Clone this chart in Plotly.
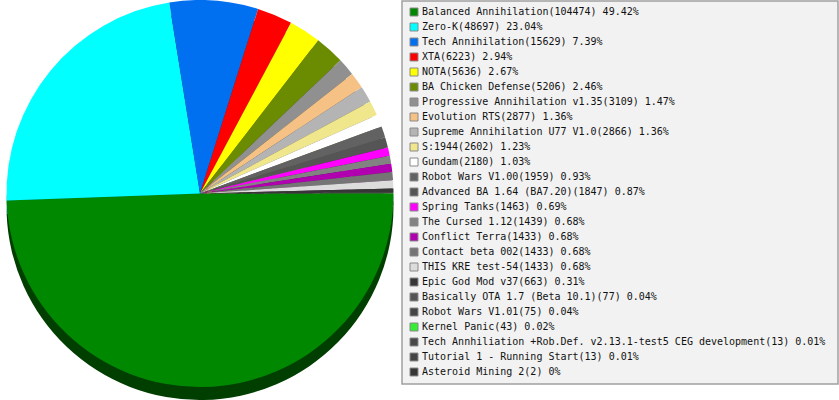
import plotly.graph_objects as go

names = [
    "Balanced Annihilation", "Zero-K", "Tech Annihilation", "XTA", "NOTA",
    "BA Chicken Defense", "Progressive Annihilation v1.35", "Evolution RTS",
    "Supreme Annihilation U77 V1.0", "S:1944", "Gundam", "Robot Wars V1.00",
    "Advanced BA 1.64 (BA7.20)", "Spring Tanks", "The Cursed 1.12",
    "Conflict Terra", "Contact beta 002", "THIS KRE test-54", "Epic God Mod v37",
    "Basically OTA 1.7 (Beta 10.1)", "Robot Wars V1.01", "Kernel Panic",
    "Tech Annhiliation +Rob.Def. v2.13.1-test5 CEG development",
    "Tutorial 1 - Running Start", "Asteroid Mining 2",
]
counts = [104474, 48697, 15629, 6223, 5636, 5206, 3109, 2877, 2866, 2602, 2180,
          1959, 1847, 1463, 1439, 1433, 1433, 1433, 663, 77, 75, 43, 13, 13, 2]
percents = ["49.42%", "23.04%", "7.39%", "2.94%", "2.67%", "2.46%", "1.47%",
            "1.36%", "1.36%", "1.23%", "1.03%", "0.93%", "0.87%", "0.69%",
            "0.68%", "0.68%", "0.68%", "0.68%", "0.31%", "0.04%", "0.04%",
            "0.02%", "0.01%", "0.01%", "0%"]
colors = ["#008800", "#00ffff", "#0070f0", "#ff0000", "#ffff00", "#6b8c00",
          "#909090", "#f5c184", "#b4b4b4", "#f0e68c", "#ffffff", "#626262",
          "#555555", "#ff00ff", "#828282", "#b000b0", "#757575", "#dcdcdc",
          "#363636", "#555555", "#444444", "#33ee33", "#484848", "#444444",
          "#363636"]

W, H = 839, 400


def darken(hexc, f=0.47):
    h = hexc.lstrip("#")
    r, g, b = (int(h[i:i + 2], 16) for i in (0, 2, 4))
    return "rgb(%d,%d,%d)" % (r * f, g * f, b * f)


labels = ["%s(%d) %s" % (n, c, p) for n, c, p in zip(names, counts, percents)]

fig = go.Figure()

# 3D depth: darker copy of the pie, shifted down
depth = 13
top_px, bot_px = 0, 387
x0, x1 = 0 / W, 400 / W
fig.add_trace(go.Pie(
    values=counts, labels=names, sort=False, direction="clockwise", rotation=90,
    marker=dict(colors=[darken(c) for c in colors], line=dict(width=0)),
    textinfo="none", hoverinfo="skip", showlegend=False,
    domain=dict(x=[x0, x1], y=[1 - (bot_px + depth) / H, 1 - (top_px + depth) / H]),
))
fig.add_trace(go.Pie(
    values=counts, labels=names, sort=False, direction="clockwise", rotation=90,
    marker=dict(colors=colors, line=dict(width=0)),
    textinfo="none", showlegend=False,
    domain=dict(x=[x0, x1], y=[1 - bot_px / H, 1 - top_px / H]),
))

# manual legend
row_y = [12 + 15 * i for i in range(len(names))]
fig.add_trace(go.Scatter(
    x=[414] * len(names), y=row_y, mode="markers",
    marker=dict(symbol="square", size=8, color=colors, line=dict(color="#8a8a8a", width=1)),
    hoverinfo="skip", showlegend=False,
))
fig.add_trace(go.Scatter(
    x=[422] * len(names), y=row_y, mode="text", text=labels,
    textposition="middle right",
    textfont=dict(family="DejaVu Sans Mono", size=10, color="#111111"),
    hoverinfo="skip", showlegend=False,
))

fig.update_layout(
    width=W, height=H, margin=dict(l=0, r=0, t=0, b=0),
    paper_bgcolor="white", plot_bgcolor="rgba(0,0,0,0)",
    xaxis=dict(range=[0, W], visible=False, domain=[0, 1], fixedrange=True),
    yaxis=dict(range=[H, 0], visible=False, domain=[0, 1], fixedrange=True),
    shapes=[dict(type="rect", xref="paper", yref="paper", layer="below",
                 x0=402 / W, x1=838 / W, y0=1 - 384 / H, y1=1 - 1 / H,
                 fillcolor="#f2f2f2", line=dict(color="#a0a0a0", width=1.5))],
    showlegend=False,
)

fig.write_html("out.html", config={"displayModeBar": False},
               post_script="document.body.style.margin='0px';document.body.style.overflow='hidden';")
